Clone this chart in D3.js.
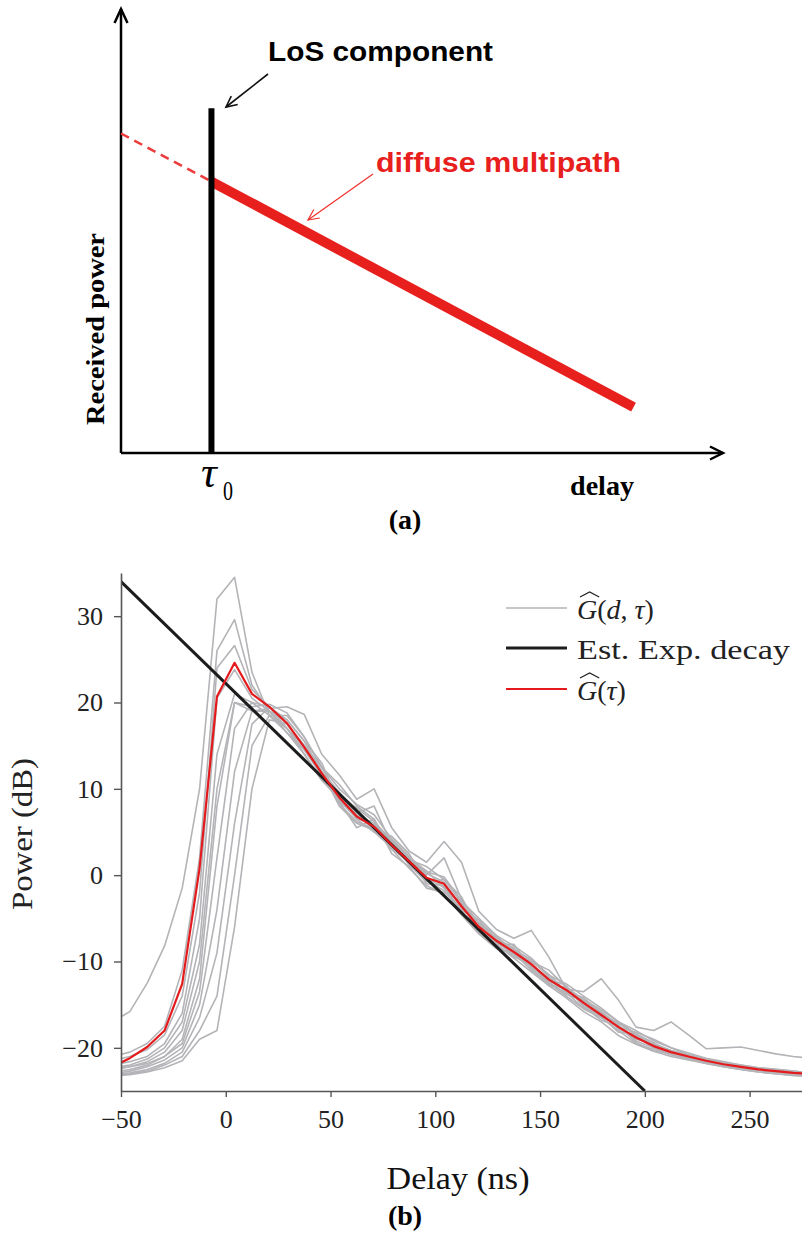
<!DOCTYPE html>
<html>
<head>
<meta charset="utf-8">
<script src="https://cdn.jsdelivr.net/npm/d3@7"></script>
<style>
body { margin: 0; background: #fff; }
svg { display: block; }
</style>
</head>
<body>
<svg id="fig" width="802" height="1234"></svg>
<script>
// ---------- panel (a): schematic power delay profile (arbitrary units 0..100) ----------
var losDelay = 15, losPower = 77.5;
var dashDelay = [0, 15], dashPower = [71.8, 61];
var diffDelay = [15, 85], diffPower = [61, 10.3];

// ---------- panel (b): measured PDPs ----------
var delay = [-54.2, -45.8, -37.5, -29.2, -20.8, -12.5, -4.2, 4.2, 12.5, 20.8, 29.2, 37.5, 45.8,
  54.2, 62.5, 70.8, 79.2, 87.5, 95.8, 104.2, 112.5, 120.8, 129.2, 137.5, 145.8, 154.2, 162.5,
  170.8, 179.2, 187.5, 195.8, 204.2, 212.5, 220.8, 229.2, 237.5, 245.8, 254.2, 262.5, 270.8, 279.2];

var avgPdp = [-22.2, -21.2, -19.9, -18.0, -12.6, 0.8, 20.7, 24.6, 21.0, 19.5, 17.6, 14.8, 11.8,
  9.0, 6.8, 5.6, 3.5, 1.6, -0.3, -1.0, -3.6, -6.0, -7.6, -8.9, -10.3, -12.1, -13.3,
  -14.8, -16.2, -17.6, -18.8, -19.8, -20.5, -21.0, -21.5, -21.9, -22.2, -22.5, -22.7, -22.9, -23.0];

var pdp1 = [-17, -15.8, -12.5, -8.2, -1.5, 10, 32, 34.5, 23.5, 18.5, 17, 15, 12,
  8.5, 5.5, 6.5, 2.5, 1.0, -1.5, -2.0, -3.0, -6.8, -8.5, -9.0, -11.0, -12.5, -14.0,
  -15.5, -16.5, -18.0, -19.5, -20.2, -20.8, -21.3, -21.8, -22.2, -22.5, -22.8, -23.0, -23.2, -23.3];
var pdp2 = [-21, -20.5, -19.5, -17.5, -11, 2, 26, 29.6, 22, 19, 17, 14.5, 11.5,
  9.5, 7.5, 5.0, 4.0, 2.0, 0.5, -1.5, -4.0, -5.5, -7.0, -9.5, -10.0, -11.5, -13.5,
  -14.5, -16.0, -17.2, -18.5, -19.6, -20.3, -20.8, -21.3, -21.7, -22.0, -22.3, -22.5, -22.7, -22.9];
var pdp3 = [-21.5, -21, -20.2, -18.5, -14, -2, 24, 26.6, 21.5, 19.5, 17.5, 15, 12.5,
  10.5, 8.0, 6.5, 3.0, 1.8, 1.0, -0.5, -2.5, -6.5, -8.0, -8.0, -10.8, -12.8, -13.0,
  -15.2, -16.8, -17.5, -19.2, -20.0, -20.6, -21.1, -21.6, -22.0, -22.3, -22.6, -22.8, -23.0, -23.1];
var pdp4 = [-22, -21.6, -21, -19.5, -16, -5, 20.5, 23.8, 20.5, 19, 18, 15.5, 12,
  8.0, 6.0, 5.2, 4.5, 2.5, -1.0, -1.2, -4.5, -5.8, -7.2, -8.6, -9.8, -11.8, -13.5,
  -14.2, -16.0, -17.8, -19.0, -19.5, -20.3, -20.9, -21.4, -21.8, -22.1, -22.4, -22.6, -22.8, -23.0];
var pdp5 = [-22.3, -22, -21.3, -20, -17, -8, 14, 21, 20, 18.5, 16.5, 14, 11,
  9.2, 7.0, 6.0, 3.8, 1.2, -0.8, -0.5, -3.2, -6.2, -8.2, -9.4, -10.5, -12.0, -12.8,
  -15.0, -16.5, -17.0, -18.6, -20.0, -20.8, -21.3, -21.7, -22.1, -22.4, -22.6, -22.8, -23.0, -23.1];
var pdp6 = [-22.5, -22.2, -21.6, -20.5, -18, -10, 10, 20, 19.5, 19.8, 18.8, 16, 12.5,
  10.0, 8.2, 7.0, 4.2, 2.2, 0.2, -0.8, -3.8, -5.2, -7.6, -8.4, -10.6, -12.4, -13.8,
  -14.6, -15.8, -17.4, -19.4, -20.4, -20.6, -21.0, -21.5, -21.9, -22.2, -22.5, -22.7, -22.9, -23.0];
var pdp7 = [-22.5, -22.2, -21.8, -21, -19, -12, 8, 20, 19, 19.3, 19.5, 18.6, 14,
  11.6, 8.8, 10.0, 5.5, 2.8, 1.5, 3.9, 1.5, -4.2, -6.3, -7.3, -6.4, -9.5, -13.2,
  -13.5, -12.0, -14.5, -17.6, -18.0, -17.0, -18.5, -20.1, -20.0, -19.9, -20.3, -20.7, -21.0, -21.2];
var pdp8 = [-22.8, -22.5, -22, -21, -19.5, -13.5, 2, 17, 20, 19.5, 17, 14, 11,
  8.8, 6.5, 5.0, 3.2, 1.4, -0.6, -1.8, -4.2, -6.6, -7.8, -9.2, -10.4, -12.6, -13.6,
  -15.4, -16.2, -17.6, -18.2, -19.0, -20.0, -20.8, -21.4, -21.8, -22.2, -22.5, -22.7, -22.9, -23.0];
var pdp9 = [-23, -22.7, -22.2, -21.4, -20, -15, -4, 12, 19, 19, 16.5, 14.5, 12,
  9.6, 7.2, 8.0, 3.5, 2.0, 0.0, 2.0, -2.8, -5.6, -7.4, -8.8, -10.0, -11.0, -13.0,
  -14.4, -15.6, -17.0, -18.4, -19.8, -20.5, -21.0, -21.4, -21.8, -22.1, -22.4, -22.6, -22.8, -22.9];
var pdp10 = [-23.1, -22.9, -22.5, -21.8, -20.5, -16.5, -9, 6, 17.5, 19.5, 18, 15.5, 13,
  8.2, 6.2, 5.4, 3.0, 0.8, -1.2, -2.2, -4.6, -6.8, -8.0, -9.6, -11.2, -12.8, -14.2,
  -15.8, -17.0, -18.6, -19.6, -20.4, -21.0, -21.4, -21.8, -22.2, -22.5, -22.8, -23.0, -23.2, -23.3];
var pdp11 = [-23.2, -23, -22.7, -22, -21, -18, -14, 0, 15, 18.5, 18.5, 16, 12.5,
  9.0, 7.8, 6.2, 4.0, 1.6, 0.4, -0.2, -3.0, -5.0, -7.0, -8.2, -9.6, -11.6, -12.6,
  -14.0, -15.4, -17.0, -18.0, -19.2, -20.0, -20.6, -21.2, -21.6, -22.0, -22.3, -22.5, -22.7, -22.9];
var pdp12 = [-23.3, -23.1, -22.8, -22.3, -21.5, -19, -18, -6, 10, 18, 17.5, 15, 12,
  8.6, 6.6, 5.8, 3.6, 1.5, -0.4, -1.4, -3.4, -6.4, -7.6, -9.0, -10.6, -12.2, -13.4,
  -14.8, -16.4, -18.2, -18.4, -19.4, -20.6, -21.2, -21.6, -22.0, -22.3, -22.6, -22.8, -23.0, -23.1];

var decayDelay = [-50, 200], decayPower = [34, -25];
var xTicks = [-50, 0, 50, 100, 150, 200, 250];
var yTicks = [-20, -10, 0, 10, 20, 30];

var svg = d3.select("#fig");

// =========================== panel (a) ===========================
var xa = d3.scaleLinear().domain([0, 100]).range([121, 724]);
var ya = d3.scaleLinear().domain([0, 100]).range([453, 8]);
var A = svg.append("g");

// axes with open arrow heads
A.append("path")
    .attr("d", "M" + xa(0) + "," + ya(0) + "V" + (ya(100) + 1))
    .attr("stroke", "#000").attr("stroke-width", 2.5).attr("fill", "none");
A.append("path")
    .attr("d", "M" + (xa(0) - 6.5) + "," + (ya(100) + 15) + "L" + xa(0) + "," + (ya(100) + 1) + "L" + (xa(0) + 6.5) + "," + (ya(100) + 15))
    .attr("stroke", "#000").attr("stroke-width", 2.5).attr("fill", "none");
A.append("path")
    .attr("d", "M" + xa(0) + "," + ya(0) + "H" + (xa(100) - 1))
    .attr("stroke", "#000").attr("stroke-width", 2.5).attr("fill", "none");
A.append("path")
    .attr("d", "M" + (xa(100) - 14) + "," + (ya(0) - 6.5) + "L" + (xa(100) - 1) + "," + ya(0) + "L" + (xa(100) - 14) + "," + (ya(0) + 6.5))
    .attr("stroke", "#000").attr("stroke-width", 2.5).attr("fill", "none");

var lineA = d3.line().x(function(d) { return xa(d[0]); }).y(function(d) { return ya(d[1]); });

// dashed extrapolation
A.append("path")
    .attr("d", lineA(d3.zip(dashDelay, dashPower)))
    .attr("stroke", "#ee3b3b").attr("stroke-width", 2.5)
    .attr("stroke-dasharray", "9,6").attr("fill", "none");

// diffuse multipath
A.append("path")
    .attr("d", lineA(d3.zip(diffDelay, diffPower)))
    .attr("stroke", "#e8201d").attr("stroke-width", 10).attr("fill", "none");

// LoS component
A.append("line")
    .attr("x1", xa(losDelay)).attr("x2", xa(losDelay))
    .attr("y1", ya(0)).attr("y2", ya(losPower))
    .attr("stroke", "#000").attr("stroke-width", 6);

// annotation arrows
function arrow(g, x1, y1, x2, y2, col, w) {
  var ang = Math.atan2(y2 - y1, x2 - x1), L = 12, s = 0.45;
  g.append("line").attr("x1", x1).attr("y1", y1).attr("x2", x2).attr("y2", y2)
    .attr("stroke", col).attr("stroke-width", w);
  g.append("path")
    .attr("d", "M" + (x2 - L * Math.cos(ang - s)) + "," + (y2 - L * Math.sin(ang - s)) +
      "L" + x2 + "," + y2 +
      "L" + (x2 - L * Math.cos(ang + s)) + "," + (y2 - L * Math.sin(ang + s)))
    .attr("stroke", col).attr("stroke-width", w).attr("fill", "none");
}
arrow(A, 268, 74, 226, 107, "#111", 1.6);
arrow(A, 373, 174, 308, 220, "#f0302c", 1.2);

A.append("text")
    .attr("x", 268).attr("y", 61)
    .attr("font-family", "Liberation Sans, Arial, sans-serif")
    .attr("font-weight", "bold").attr("font-size", 28)
    .attr("textLength", 225).attr("lengthAdjust", "spacingAndGlyphs")
    .text("LoS component");
A.append("text")
    .attr("x", 376).attr("y", 172)
    .attr("font-family", "Liberation Sans, Arial, sans-serif")
    .attr("font-weight", "bold").attr("font-size", 27).attr("fill", "#e8201d")
    .attr("textLength", 245).attr("lengthAdjust", "spacingAndGlyphs")
    .text("diffuse multipath");
A.append("text")
    .attr("transform", "translate(104,329) rotate(-90)")
    .attr("text-anchor", "middle")
    .attr("font-family", "Liberation Serif, Times New Roman, serif")
    .attr("font-weight", "bold").attr("font-size", 26)
    .attr("textLength", 192).attr("lengthAdjust", "spacingAndGlyphs")
    .text("Received power");
A.append("text")
    .attr("x", 201).attr("y", 487)
    .attr("font-family", "Liberation Serif, Times New Roman, serif")
    .attr("font-style", "italic").attr("font-size", 44)
    .text("τ");
A.append("text")
    .attr("x", 223).attr("y", 500)
    .attr("font-family", "Liberation Serif, Times New Roman, serif")
    .attr("font-size", 28)
    .attr("textLength", 10).attr("lengthAdjust", "spacingAndGlyphs")
    .text("0");
A.append("text")
    .attr("x", 570).attr("y", 495)
    .attr("font-family", "Liberation Serif, Times New Roman, serif")
    .attr("font-weight", "bold").attr("font-size", 28)
    .attr("textLength", 64).attr("lengthAdjust", "spacingAndGlyphs")
    .text("delay");
A.append("text")
    .attr("x", 405).attr("y", 529).attr("text-anchor", "middle")
    .attr("font-family", "Liberation Serif, Times New Roman, serif")
    .attr("font-weight", "bold").attr("font-size", 28)
    .text("(a)");

// =========================== panel (b) ===========================
var x = d3.scaleLinear().domain([-50, 275]).range([121, 802]);
var y = d3.scaleLinear().domain([-25, 35]).range([1091, 573]);
var B = svg.append("g");
var serif = "Liberation Serif, Times New Roman, serif";

B.append("clipPath").attr("id", "plotclip")
  .append("rect")
    .attr("x", x(-50)).attr("y", y(35))
    .attr("width", x(275) - x(-50)).attr("height", y(-25) - y(35));

var line = d3.line()
    .defined(function(d) { return d[1] != null && d[0] != null; })
    .x(function(d) { return x(d[0]); })
    .y(function(d) { return y(d[1]); });

var plot = B.append("g").attr("clip-path", "url(#plotclip)");

var grays = [pdp1, pdp2, pdp3, pdp4, pdp5, pdp6, pdp7, pdp8, pdp9, pdp10, pdp11, pdp12];
plot.append("g")
  .selectAll("path")
  .data(grays)
  .enter().append("path")
    .attr("d", function(d) { return line(d3.zip(delay, d)); })
    .attr("fill", "none")
    .attr("stroke", "#b4b4b8")
    .attr("stroke-width", 1.6)
    .attr("stroke-linejoin", "round");

plot.append("path")
    .attr("d", line(d3.zip(decayDelay, decayPower)))
    .attr("fill", "none").attr("stroke", "#1c1c1c").attr("stroke-width", 3);

plot.append("path")
    .attr("d", line(d3.zip(delay, avgPdp)))
    .attr("fill", "none").attr("stroke", "#e41a1c").attr("stroke-width", 2.2)
    .attr("stroke-linejoin", "round");

// axes
var yAxis = B.append("g")
    .attr("transform", "translate(" + x(-50) + ",0)")
    .call(d3.axisLeft(y).tickValues(yTicks).tickSize(7).tickSizeOuter(0).tickPadding(11));
var xAxis = B.append("g")
    .attr("transform", "translate(0," + y(-25) + ")")
    .call(d3.axisBottom(x).tickValues(xTicks).tickSize(6).tickSizeOuter(0).tickPadding(13));
[yAxis, xAxis].forEach(function(ax) {
  ax.select(".domain").attr("stroke", "#555").attr("stroke-width", 1.6);
  ax.selectAll(".tick line").attr("stroke", "#555").attr("stroke-width", 1.4);
  ax.selectAll(".tick text")
    .attr("font-family", serif).attr("font-size", 26).attr("fill", "#222");
});

B.append("text")
    .attr("transform", "translate(32,834) rotate(-90)")
    .attr("text-anchor", "middle")
    .attr("font-family", serif).attr("font-size", 30).attr("fill", "#222")
    .attr("textLength", 152).attr("lengthAdjust", "spacingAndGlyphs")
    .text("Power (dB)");
B.append("text")
    .attr("x", 458).attr("y", 1189).attr("text-anchor", "middle")
    .attr("font-family", serif).attr("font-size", 32).attr("fill", "#111")
    .attr("textLength", 143).attr("lengthAdjust", "spacingAndGlyphs")
    .text("Delay (ns)");
B.append("text")
    .attr("x", 405).attr("y", 1225).attr("text-anchor", "middle")
    .attr("font-family", serif).attr("font-weight", "bold").attr("font-size", 28)
    .text("(b)");

// legend
var legendItems = [
  { key: "gd", color: "#b4b4b8", width: 1.6, y: 608 },
  { key: "est", color: "#1c1c1c", width: 3, y: 648 },
  { key: "g", color: "#e41a1c", width: 2.2, y: 689 }
];
var legend = B.append("g")
  .selectAll("g")
  .data(legendItems)
  .enter().append("g")
    .attr("transform", function(d) { return "translate(0," + d.y + ")"; });

legend.append("line")
    .attr("x1", 506).attr("x2", 567)
    .attr("stroke", function(d) { return d.color; })
    .attr("stroke-width", function(d) { return d.width; });

legend.each(function(d) {
  var g = d3.select(this);
  var t = g.append("text")
      .attr("x", 577).attr("y", 11)
      .attr("font-family", serif).attr("font-size", 28).attr("fill", "#222");
  if (d.key === "est") {
    t.attr("textLength", 213).attr("lengthAdjust", "spacingAndGlyphs")
     .text("Est.  Exp.  decay");
    return;
  }
  t.append("tspan").attr("font-style", "italic").text("G");
  t.append("tspan").text("(");
  if (d.key === "gd") {
    t.append("tspan").attr("font-style", "italic").text("d");
    t.append("tspan").text(", ");
  }
  t.append("tspan").attr("font-style", "italic").text("τ");
  t.append("tspan").text(")");
  // wide hat over G
  var ext = t.node().getExtentOfChar(0);
  var x0 = ext.x + 3, x1 = ext.x + ext.width + 2, top = 11 - 20;
  g.append("path")
    .attr("d", "M" + x0 + "," + (top - 2) + "L" + ((x0 + x1) / 2) + "," + (top - 7) + "L" + x1 + "," + (top - 2))
    .attr("fill", "none").attr("stroke", "#222").attr("stroke-width", 1.3);
});
</script>
</body>
</html>
